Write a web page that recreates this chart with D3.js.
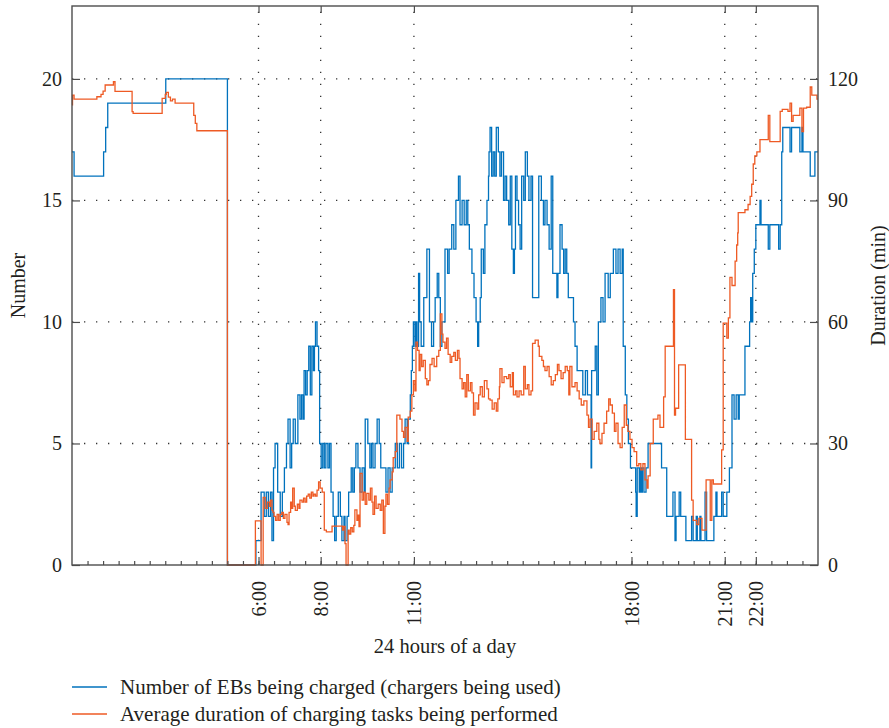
<!DOCTYPE html>
<html><head><meta charset="utf-8">
<script src="https://cdn.jsdelivr.net/npm/d3@7"></script>
<style>
body{margin:0;background:#fff}
text{font-family:"Liberation Serif","DejaVu Serif",serif;fill:#231f20}
</style>
</head><body>
<svg id="chart" width="889" height="728"></svg>
<script>
// ---------------- data ----------------
const leftTicks = [0, 5, 10, 15, 20];
const rightTicks = [0, 30, 60, 90, 120];
const hourTicks = [360, 480, 660, 1080, 1260, 1320];          // minutes of day
const hourLabels = ["6:00", "8:00", "11:00", "18:00", "21:00", "22:00"];
const seriesNames = ["Number of EBs being charged (chargers being used)",
                     "Average duration of charging tasks being performed"];

// [minute of day, number of EBs]
const chargingCount = [
[0,17],[4,16],[61,17],[65,18],[69,19],[181,20],[300,0],
[355,1],[365,3],[371,2],[375,3],[379,2],[383,3],[386,1],[389,4],[392,5],[397,3],[402,2],[406,3],[410,4],[414,5],[417,6],[421,4],[424,5],[427,6],[431,5],[436,7],[440,6],[443,7],[446,6],[448,8],[451,7],[454,8],[457,9],[460,7],[463,9],[466,8],[468,9],[470,10],[473,9],[476,8],[478,5],
[481,4],[484,5],[487,4],[490,5],[494,4],[497,5],[500,3],[504,2],[507,1],[510,2],[514,3],[518,2],[521,1],[525,2],[527,1],[531,2],[534,3],[539,4],[542,3],[545,4],[548,5],[552,4],[556,3],[560,4],[564,3],[566,6],[571,5],[575,4],[578,5],[581,4],[585,5],[589,6],[593,5],[596,4],[606,3],[610,4],[614,3],[618,4],[624,5],[628,4],[632,5],[636,4],[640,5],[643,6],[647,5],[649,6],[653,7],[655,8],[657,9],[659,10],[662,9],[664,10],[666,9],[669,12],[671,10],[674,9],[679,11],[685,13],[690,10],[694,9],[698,10],[701,11],[705,12],[708,11],[711,9],[714,10],[720,13],[725,12],[728,13],[733,14],[737,13],[741,15],[746,16],[749,14],[753,15],[757,14],[761,15],[764,14],[767,13],[772,12],[776,11],[780,10],[783,9],[785,10],[788,11],[790,13],[794,12],[797,14],[801,15],[804,16],[805,17],[807,18],[810,16],[813,17],[816,16],[819,18],[823,17],[826,16],[829,17],[833,15],[836,16],[839,15],[843,14],[846,16],[849,13],[852,12],[854,13],[856,16],[859,15],[862,14],[865,13],[868,16],[872,15],[875,17],[879,16],[882,15],[886,16],[889,11],[901,16],[906,15],[910,14],[913,15],[917,14],[921,13],[925,16],[928,12],[936,11],[938,12],[942,14],[946,13],[949,12],[952,13],[955,12],[958,11],[968,10],[971,9],[975,8],[986,7],[991,8],[995,7],[1002,4],[1003,8],[1010,9],[1013,7],[1016,10],[1021,11],[1025,10],[1029,12],[1035,11],[1039,12],[1045,13],[1050,12],[1054,13],[1058,12],[1062,13],[1064,9],[1068,7],[1071,6],[1074,5],[1078,4],[1088,3],[1089,2],[1091,4],[1095,3],[1097,4],[1099,3],[1101,4],[1104,3],[1108,4],[1112,5],[1138,4],[1148,2],[1160,3],[1164,1],[1166,2],[1172,3],[1175,2],[1185,1],[1196,2],[1199,1],[1205,2],[1207,1],[1212,2],[1214,1],[1222,3],[1225,1],[1239,2],[1243,3],[1245,2],[1254,3],[1257,2],[1264,3],[1269,4],[1274,7],[1278,6],[1282,7],[1286,6],[1288,7],[1299,9],[1308,10],[1310,11],[1312,10],[1314,12],[1317,13],[1320,14],[1328,15],[1330,14],[1344,13],[1347,14],[1364,13],[1367,14],[1370,17],[1372,18],[1386,17],[1389,18],[1405,17],[1409,18],[1411,17],[1425,16],[1434,17],[1440,17]
];

// [minute of day, average duration (min)]
const avgDuration = [
[0,113.6],[1,116],[4,115],[48,115.6],[56,116.2],[60,117],[64,118.5],[80,119.3],[83,116.9],[116,111.9],[118,111.5],[174,115.2],[180,116.2],[182,116.7],[186,115.5],[190,114.6],[194,115],[199,114],[235,111],[238,109],[241,107.2],[300,0],
[354,10.9],[365,0],[369,16.7],[373,14],[377,15.5],[381,14.5],[383,16],[386,13.5],[388,13],[390,12],[393,11],[396,12.5],[399,11],[402,12.5],[405,13],[408,11.5],[411,12.5],[415,10.5],[417,10],[419,13],[422,15.5],[424,14],[426,19],[429,14.5],[431,13.5],[435,15],[438,14],[440,16],[444,15.5],[447,16.5],[450,15.5],[453,17],[456,17.5],[459,16.5],[462,18],[465,17],[467,17.5],[470,17],[473,18.5],[476,20.5],[479,19],[483,18],[487,8.6],[491,8.2],[502,9.6],[518,9.6],[522,8.6],[524,9.5],[527,5.3],[529,0],[533,8.6],[535,7.6],[538,9.2],[541,8.2],[544,9.8],[546,13.6],[550,11],[552,12.3],[554,9.5],[556,22.6],[560,16],[563,18],[566,15],[569,17.7],[573,16],[576,19],[579,15.5],[581,12.5],[584,17],[587,14],[591,15],[595,13.5],[598,16],[601,7.8],[604,14.5],[606,17.5],[609,15],[612,19],[614,21],[618,23],[620,26.5],[624,28],[627,37],[633,36],[637,33],[640,31.5],[643,34],[647,30.5],[649,36.5],[653,38],[656,42],[659,45.5],[662,43],[664,55],[667,53],[670,48],[672,52],[675,49],[678,50.5],[682,46],[685,44.5],[688,45.5],[691,49.5],[695,51],[699,49],[704,51.5],[708,53],[711,62],[714,57],[716,55],[720,53.5],[723,56],[726,52],[730,50],[733,51.5],[737,52.5],[740,50.5],[744,53],[747,51],[749,46],[753,43.5],[756,45],[759,41.5],[762,47],[765,43],[769,45],[772,42.5],[775,37],[778,40],[782,38.5],[785,42],[788,44],[792,41.5],[796,45.5],[801,43.5],[804,41],[807,40.7],[811,38.5],[815,40],[819,38],[822,41],[825,44],[826,48.5],[830,45],[834,46.5],[839,46],[843,47],[846,44],[850,47.5],[852,42],[856,43],[859,41.5],[863,43],[867,42],[872,49],[875,43.5],[879,44.5],[882,42],[886,43],[889,54.7],[894,55.5],[900,54],[902,51.5],[907,50.5],[910,49],[913,48],[917,49],[921,46.5],[925,44.5],[929,45.5],[933,47],[937,49.5],[940,48],[944,46],[948,47.5],[952,49],[956,48],[959,42],[961,49],[965,44],[971,45],[975,43],[979,41],[983,39.5],[988,40.5],[994,37],[997,34],[1000,36],[1004,31],[1008,33],[1013,35],[1017,31],[1019,30],[1023,32.5],[1027,35],[1032,38],[1036,41],[1039,39.5],[1043,37.5],[1047,33],[1050,35],[1054,30],[1058,29],[1062,34],[1066,39.5],[1070,34.5],[1073,33],[1077,31],[1081,29],[1085,28],[1090,24.5],[1094,25],[1098,23.5],[1102,25],[1106,21],[1110,19],[1112,22],[1116,30],[1122,36],[1131,37],[1135,34],[1142,41.5],[1145,54],[1161,68],[1163,37],[1165,38.7],[1171,49.4],[1184,31],[1196,16],[1199,11],[1206,10],[1210,11.5],[1216,8.6],[1224,21],[1232,11],[1235,21],[1238,20],[1254,28.4],[1257,59.7],[1264,56],[1267,61],[1270,71],[1274,69],[1280,75],[1283,79],[1285,82],[1286,87],[1299,87.7],[1305,89],[1309,91],[1312,94],[1315,99],[1318,101],[1322,102],[1328,105],[1344,111],[1347,104.5],[1367,112],[1371,112.5],[1382,112],[1386,114],[1389,109.5],[1392,111],[1405,112.8],[1409,107],[1412,112.8],[1418,113],[1425,118],[1428,116],[1438,115],[1440,115]
];

// ---------------- drawing ----------------
const W = 889, H = 728;
const L = 72, R = 818, T = 6, B = 565;
const BLUE = "#0072BD", ORANGE = "#EE5A24", AXIS = "#4d4d4d";
const FONT = '"Liberation Serif","DejaVu Serif",serif';
const svg = d3.select("#chart");
svg.append("rect").attr("width", W).attr("height", H).attr("fill", "#fff");

const x = d3.scaleLinear().domain([0, 1440]).range([L, R]);
const yL = d3.scaleLinear().domain([0, 23]).range([B, T]);
const yR = d3.scaleLinear().domain([0, 138]).range([B, T]);

// dotted grid
const grid = svg.append("g").attr("stroke", "#333").attr("stroke-width", 1.3)
  .attr("stroke-dasharray", "1.3 10.7").attr("fill", "none");
leftTicks.filter(d => d > 0).forEach(d => {
  grid.append("line").attr("x1", L).attr("x2", R).attr("y1", yL(d)).attr("y2", yL(d));
});
hourTicks.forEach(d => {
  grid.append("line").attr("x1", x(d)).attr("x2", x(d)).attr("y1", B).attr("y2", T);
});

// series
const lineBlue = d3.line().x(d => x(d[0])).y(d => yL(d[1])).curve(d3.curveStepAfter);
const lineOrange = d3.line().x(d => x(d[0])).y(d => yR(d[1])).curve(d3.curveStepAfter);
svg.append("path").datum(chargingCount).attr("d", lineBlue)
  .attr("fill", "none").attr("stroke", BLUE).attr("stroke-width", 1.3);
svg.append("path").datum(avgDuration).attr("d", lineOrange)
  .attr("fill", "none").attr("stroke", ORANGE).attr("stroke-width", 1.3);

// axes
function styleAxis(g) {
  g.selectAll(".domain").remove();
  g.selectAll(".tick line").attr("stroke", AXIS).attr("stroke-width", 1.2);
  g.selectAll(".tick text").attr("font-size", 20).attr("fill", "#231f20")
    .attr("font-family", FONT);
}
svg.append("g").attr("transform", `translate(${L},0)`)
  .call(d3.axisLeft(yL).tickValues(leftTicks).tickSizeInner(-8).tickSizeOuter(0).tickPadding(10))
  .call(styleAxis);
svg.append("g").attr("transform", `translate(${R},0)`)
  .call(d3.axisRight(yR).tickValues(rightTicks).tickSizeInner(-8).tickSizeOuter(0).tickPadding(10))
  .call(styleAxis);
// minor ticks on bottom axis (every 30 min)
svg.append("g").attr("transform", `translate(0,${B})`)
  .call(d3.axisBottom(x).tickValues(d3.range(30, 1440, 30)).tickSizeInner(-4).tickSizeOuter(0).tickFormat(""))
  .call(styleAxis);
const xb = svg.append("g").attr("transform", `translate(0,${B})`)
  .call(d3.axisBottom(x).tickValues(hourTicks).tickFormat((d, i) => hourLabels[i])
    .tickSizeInner(-8).tickSizeOuter(0))
  .call(styleAxis);
xb.selectAll(".tick text").attr("transform", "rotate(-90)")
  .attr("text-anchor", "end").attr("x", -16).attr("y", 0).attr("dy", "0.33em");
svg.append("g").attr("transform", `translate(0,${T})`)
  .call(d3.axisTop(x).tickValues(hourTicks).tickSizeInner(-7).tickSizeOuter(0).tickFormat(""))
  .call(styleAxis);

// frame
svg.append("rect").attr("x", L).attr("y", T).attr("width", R - L).attr("height", B - T)
  .attr("fill", "none").attr("stroke", AXIS).attr("stroke-width", 1.4);

// axis titles
svg.append("text").attr("transform", `translate(25,${(T + B) / 2}) rotate(-90)`)
  .attr("text-anchor", "middle").attr("font-size", 20).text("Number");
svg.append("text").attr("transform", `translate(885,${(T + B) / 2}) rotate(-90)`)
  .attr("text-anchor", "middle").attr("font-size", 20).text("Duration (min)");
svg.append("text").attr("x", (L + R) / 2).attr("y", 653)
  .attr("text-anchor", "middle").attr("font-size", 20.5).text("24 hours of a day");

// legend
const legend = svg.append("g");
[BLUE, ORANGE].forEach((c, i) => {
  const yy = 687 + i * 27;
  legend.append("line").attr("x1", 72).attr("x2", 107).attr("y1", yy).attr("y2", yy)
    .attr("stroke", c).attr("stroke-width", 1.3);
  legend.append("text").attr("x", 120).attr("y", yy).attr("dy", "0.33em")
    .attr("font-size", 21).text(seriesNames[i]);
});
</script>
</body></html>
